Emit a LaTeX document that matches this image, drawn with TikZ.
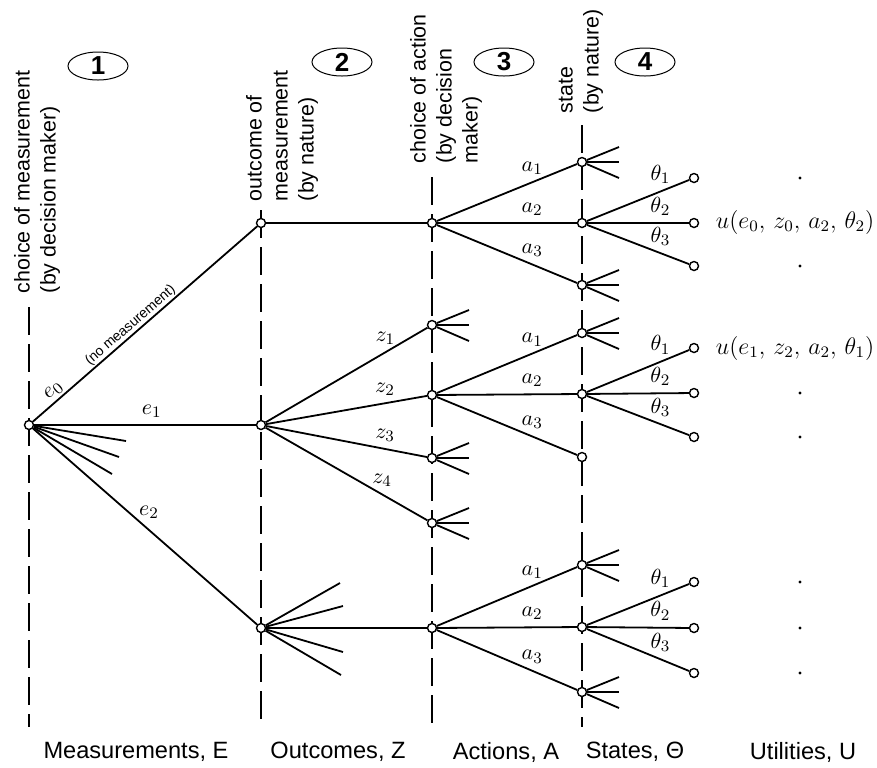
\documentclass[tikz,border=0pt]{standalone}
\usepackage{fontspec}
\setmainfont{Liberation Sans}
\usetikzlibrary{shapes.geometric, calc}

\begin{document}
\begin{tikzpicture}[x=0.5pt, y=-0.5pt, line width=0.9pt, font=\fontsize{11}{13}\selectfont]
    \tikzstyle{pt} = [circle, draw, fill=white, inner sep=0pt, minimum size=4.5pt, line width=0.7pt]
    \tikzstyle{stage} = [line width=0.8pt, dash pattern=on 14pt off 4.5pt]
    \tikzstyle{head} = [rotate=90, anchor=south west, align=left, inner sep=0pt, font=\fontsize{10.7}{13}\selectfont]
    \tikzstyle{num} = [draw, ellipse, line width=0.5pt, minimum width=30pt, minimum height=14pt, inner sep=0pt, font=\bfseries\fontsize{13}{13}\selectfont]
    \tikzstyle{axis} = [font=\fontsize{11.8}{14}\selectfont]
    \tikzstyle{dot} = [circle, fill, inner sep=0pt, minimum size=1.6pt]
    \tikzstyle{util} = [anchor=west, inner sep=0pt, font=\fontsize{11.5}{13}\selectfont]

    \useasboundingbox (0,0) rectangle (877,767);

    \draw[stage] (29,307) -- (29,727);
    \draw[stage] (261,210) -- (261,727);
    \draw[stage] (432,177) -- (432,727);
    \draw[stage] (582,125) -- (582,727);

    \node[head] (h1) at (61,294) {choice of measurement\\(by decision maker)};
    \node[head] (h2) at (319,202) {outcome of\\measurement\\(by nature)};
    \node[head] (h3) at (483,164) {choice of action\\(by decision\\maker)};
    \node[head] (h4) at (604,114) {state\\(by nature)};

    \node[num] (n1) at (98,66) {1};
    \node[num] (n2) at (342,62) {2};
    \node[num] (n3) at (504,62) {3};
    \node[num] (n4) at (645,62) {4};

    \node[pt] (r) at (29,425) {};
    \node[pt] (o0) at (261,223) {};
    \node[pt] (o1) at (261,425) {};
    \node[pt] (o2) at (261,628) {};
    \node[pt] (c0) at (432,223) {};
    \node[pt] (z1) at (432,325) {};
    \node[pt] (z2) at (432,395) {};
    \node[pt] (z3) at (432,458) {};
    \node[pt] (z4) at (432,523) {};
    \node[pt] (c2) at (432,628) {};

    \foreach \g/\ya/\yb/\yc/\yl/\ym/\yn in {0/162/223/285/178/223/266, 1/333/394/457/348/393/437, 2/565/627/692/582/628/673} {
        \node[pt] (s\g-1) at (582,\ya) {};
        \node[pt] (s\g-2) at (582,\yb) {};
        \node[pt] (s\g-3) at (582,\yc) {};
        \node[pt] (l\g-1) at (694,\yl) {};
        \node[pt] (l\g-2) at (694,\ym) {};
        \node[pt] (l\g-3) at (694,\yn) {};
    }

    \draw (r) -- node[sloped, above, pos=0.12, inner sep=1pt] {$e_0$}
        node[sloped, above, pos=0.46, inner sep=0.5pt, font=\fontsize{7}{8}\selectfont] {(no measurement)} (o0);
    \draw (r) -- node[above, pos=0.53] {$e_1$} (o1);
    \draw (r) -- node[above, pos=0.5, xshift=2pt] {$e_2$} (o2);

    \draw (o0) -- (c0);
    \draw (o1) -- node[above, pos=0.74] {$z_1$} (z1);
    \draw (o1) -- node[above, pos=0.74] {$z_2$} (z2);
    \draw (o1) -- node[above, pos=0.74] {$z_3$} (z3);
    \draw (o1) -- node[above, pos=0.72] {$z_4$} (z4);
    \draw (o2) -- (c2);

    \foreach \g/\c in {0/c0, 1/z2, 2/c2} {
        \draw (\c) -- node[above, pos=0.68] {$a_1$} (s\g-1);
        \draw (\c) -- node[above, pos=0.68] {$a_2$} (s\g-2);
        \draw (\c) -- node[above, pos=0.68] {$a_3$} (s\g-3);
        \draw (s\g-2) -- node[above, pos=0.72] {$\theta_1$} (l\g-1);
        \draw (s\g-2) -- node[above, pos=0.72] {$\theta_2$} (l\g-2);
        \draw (s\g-2) -- node[above, pos=0.72] {$\theta_3$} (l\g-3);
    }

    % short stubs for the branches not drawn out
    \foreach \n in {z1, z3, z4, s0-1, s0-3, s1-1, s2-1, s2-3}
        \foreach \dy [count=\i] in {-15, 0, 16} {
            \coordinate (\n-f\i) at ($(\n)+(37,\dy)$);
            \draw (\n) -- (\n-f\i);
        }
    \foreach \dx/\dy [count=\i] in {97/16, 90/32, 83/49} {
        \coordinate (r-f\i) at ($(r)+(\dx,\dy)$);
        \draw (r) -- (r-f\i);
    }
    \foreach \dx/\dy [count=\i] in {79/-45, 82/-22, 82/24, 80/47} {
        \coordinate (o2-f\i) at ($(o2)+(\dx,\dy)$);
        \draw (o2) -- (o2-f\i);
    }

    \foreach \y [count=\i] in {178, 266, 393, 437, 582, 628, 673}
        \node[dot] (d\i) at (800,\y) {};

    \node[util] (u0) at (715,222) {$u(e_0,\, z_0,\, a_2,\, \theta_2)$};
    \node[util] (u1) at (715,348) {$u(e_1,\, z_2,\, a_2,\, \theta_1)$};

    \node[axis] (xe) at (136,752) {Measurements, E};
    \node[axis] (xz) at (338,752) {Outcomes, Z};
    \node[axis] (xa) at (506,752) {Actions, A};
    \node[axis] (xs) at (635,752) {States, Θ};
    \node[axis] (xu) at (803,752) {Utilities, U};
\end{tikzpicture}
\end{document}
